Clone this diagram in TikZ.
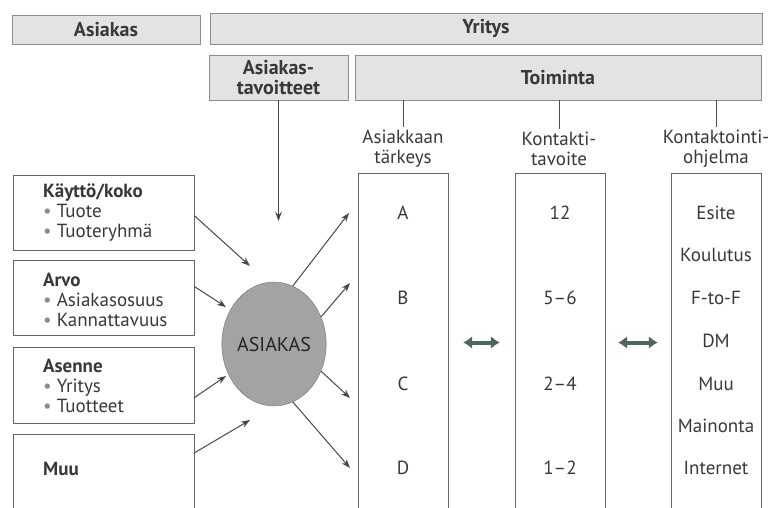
\documentclass[tikz,border=0pt]{standalone}
\usepackage{fontspec}
\setmainfont{PT Sans}
\usetikzlibrary{shapes.geometric,arrows.meta,calc}
\definecolor{boxgray}{gray}{0.89}
\definecolor{inkgray}{gray}{0.22}
\definecolor{ovalgray}{gray}{0.64}
\definecolor{dblgreen}{HTML}{4F6660}

\begin{document}
\begin{tikzpicture}[x=1pt,y=-1pt]
        \tikzstyle{every node}=[text=inkgray,font=\fontsize{19}{20}\selectfont];
        \tikzstyle{topbox}=[draw=black!45,fill=boxgray,font=\fontsize{20}{20}\selectfont\bfseries,align=center,inner sep=0pt];
        \tikzstyle{leftbox}=[draw=black!60,minimum width=181pt,inner sep=0pt];
        \tikzstyle{colbox}=[draw=black!60,minimum width=90pt,minimum height=339pt,inner sep=0pt];
        \tikzstyle{arr}=[black!72,line width=1pt,-{Stealth[length=9pt,width=6.5pt]}];
        \tikzstyle{dbl}=[dblgreen,line width=4pt,{Latex[length=9pt,width=13pt]}-{Latex[length=9pt,width=13pt]}];
        \newcommand{\bul}{\textcolor{black!45}{\textbullet}~}
        \useasboundingbox (0,0) rectangle (771,507);
        % ylarivi
        \node[topbox,minimum width=188pt,minimum height=29pt] (asiakas) at (106,29.5) {Asiakas};
        \node[topbox,minimum width=552pt,minimum height=31pt] (yritys) at (486,28.5) {Yritys};
        \node[topbox,minimum width=139pt,minimum height=45pt] (tavoitteet) at (278.5,77.5) {Asiakas-\\tavoitteet};
        \node[topbox,minimum width=406pt,minimum height=45pt] (toiminta) at (558,77.5) {Toiminta};
        % vasen puoli
        \node[leftbox,minimum height=75pt] (kaytto) at (103.5,212.5) {};
        \node[leftbox,minimum height=75pt] (arvo) at (103.5,297.5) {};
        \node[leftbox,minimum height=76pt] (asenne) at (103.5,385) {};
        \node[leftbox,minimum height=80pt] (muu) at (103.5,474) {};
        \node[anchor=west,align=left,inner sep=0pt] (kayttoTxt) at (43,213) {\textbf{Käyttö/koko}\\\bul Tuote\\\bul Tuoteryhmä};
        \node[anchor=west,align=left,inner sep=0pt] (arvoTxt) at (43,300) {\textbf{Arvo}\\\bul Asiakasosuus\\\bul Kannattavuus};
        \node[anchor=west,align=left,inner sep=0pt] (asenneTxt) at (43,386) {\textbf{Asenne}\\\bul Yritys\\\bul Tuotteet};
        \node[anchor=west,inner sep=0pt] (muuTxt) at (43,469) {\textbf{Muu}};
        \node[ellipse,draw=black!55,fill=ovalgray,minimum width=94pt,minimum height=124pt,inner sep=0pt,text=black!85,font=\fontsize{20}{20}\selectfont] (ovaali) at (274,344) {ASIAKAS};
        % sarakkeet
        \node[colbox] (colA) at (403,342.5) {};
        \node[colbox] (colB) at (560,342.5) {};
        \node[colbox] (colC) at (716,342.5) {};
        \node[align=center] (hdrA) at (403,149) {Asiakkaan\\tärkeys};
        \node[align=center] (hdrB) at (559,149) {Kontakti-\\tavoite};
        \node[align=center] (hdrC) at (716,149) {Kontaktointi-\\ohjelma};
        \node (a) at (403,213) {A};
        \node (b) at (403,298) {B};
        \node (c) at (403,384) {C};
        \node (d) at (403,468) {D};
        \node (k12) at (560,213) {12};
        \node (k56) at (560,298) {5--6};
        \node (k24) at (560,384) {2--4};
        \node (k12b) at (560,468) {1--2};
        \node (esite) at (716,213) {Esite};
        \node (koulutus) at (716,255) {Koulutus};
        \node (ftof) at (716,298) {F-to-F};
        \node (dm) at (716,341) {DM};
        \node (muuC) at (716,384) {Muu};
        \node (mainonta) at (716,426) {Mainonta};
        \node (internet) at (716,468) {Internet};
        % nuolten karjet
        \coordinate (downTip) at (278.5,221);
        \coordinate (in1) at (250,266);
        \coordinate (in2) at (226,307);
        \coordinate (in3) at (226,376);
        \coordinate (in4) at (250,420);
        \coordinate (out1) at (349,213);
        \coordinate (out2) at (350,283);
        \coordinate (out3) at (350,398);
        \coordinate (out4) at (350,468);
        \draw[black!70,line width=1pt] (hdrA.north |- toiminta.south) -- (hdrA.north)
        (hdrB.north |- toiminta.south) -- (hdrB.north)
        (hdrC.north |- toiminta.south) -- (hdrC.north);
        \draw[arr] (tavoitteet.south) -- (downTip);
        \draw[arr] ($(kaytto.east)+(0,3)$) -- (in1);
        \draw[arr] (arvo.7) -- (in2);
        \draw[arr] (asenne.-8) -- (in3);
        \draw[arr] ($(muu.east)+(0,-21)$) -- (in4);
        \draw[arr] (ovaali.72) -- (out1);
        \draw[arr] (ovaali.30) -- (out2);
        \draw[arr] (ovaali.-30) -- (out3);
        \draw[arr] (ovaali.-72) -- (out4);
        \draw[dbl,shorten <=15pt,shorten >=15pt] (colA.east) -- (colB.west);
        \draw[dbl,shorten <=13pt,shorten >=13pt] (colB.east) -- (colC.west);
    \end{tikzpicture}
\end{document}
